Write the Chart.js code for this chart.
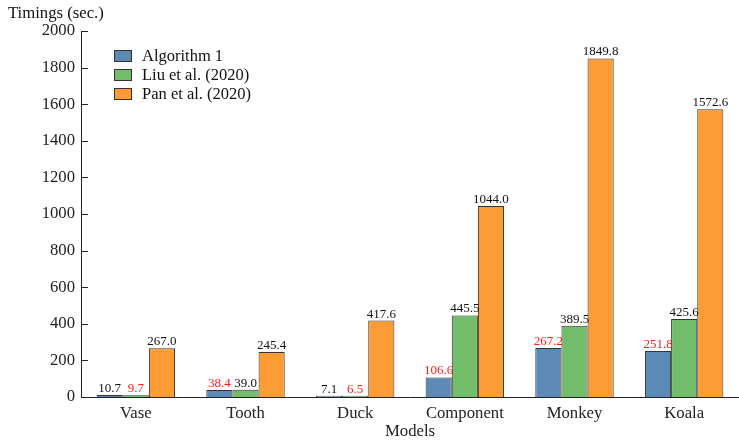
<!DOCTYPE html>
<html>
<head>
<meta charset="utf-8">
<script src="https://cdn.jsdelivr.net/npm/chart.js@4/dist/chart.umd.min.js"></script>
<style>
  html, body { margin: 0; padding: 0; background: #fff; }
  #wrap { width: 739px; height: 440px; position: relative; }
</style>
</head>
<body>
<div id="wrap"><canvas id="c" width="739" height="440"></canvas></div>
<script>
// Models and timings (seconds)
const models = ['Vase', 'Tooth', 'Duck', 'Component', 'Monkey', 'Koala'];
const algorithm1 = [10.7, 38.4, 7.1, 106.6, 267.2, 251.8];
const liu2020 = [9.7, 39.0, 6.5, 445.5, 389.5, 425.6];
const pan2020 = [267.0, 245.4, 417.6, 1044.0, 1849.8, 1572.6];
const seriesNames = ['Algorithm 1', 'Liu et al. (2020)', 'Pan et al. (2020)'];
const yTicks = [0, 200, 400, 600, 800, 1000, 1200, 1400, 1600, 1800, 2000];

const colors = ['#5a8ab5', '#72bd6a', '#fd9b35'];
const SERIF = '"Liberation Serif", "DejaVu Serif", serif';
const AXIS_FONT = 16.7;
const series = [algorithm1, liu2020, pan2020];

// Value labels above each bar; the fastest model in each group is shown in red
const valueLabels = {
  id: 'valueLabels',
  afterDatasetsDraw(chart) {
    const ctx = chart.ctx;
    ctx.save();
    ctx.font = '13px ' + SERIF;
    ctx.textAlign = 'center';
    ctx.textBaseline = 'alphabetic';
    chart.data.datasets.forEach((ds, di) => {
      const meta = chart.getDatasetMeta(di);
      meta.data.forEach((bar, i) => {
        const v = ds.data[i];
        const groupMin = Math.min(...series.map(s => s[i]));
        ctx.fillStyle = v === groupMin ? '#ff1a1a' : '#111';
        ctx.fillText(v.toFixed(1), bar.x, bar.y - 3);
      });
    });
    ctx.restore();
  }
};

// Axis title above the y axis, inward tick marks, and the legend box
const decorations = {
  id: 'decorations',
  afterDraw(chart) {
    const ctx = chart.ctx;
    const ys = chart.scales.y;
    const area = chart.chartArea;
    ctx.save();
    // inward ticks on the y axis
    ctx.strokeStyle = '#222';
    ctx.lineWidth = 1;
    yTicks.forEach(t => {
      const py = Math.round(ys.getPixelForValue(t)) + 0.5;
      ctx.beginPath();
      ctx.moveTo(area.left, py);
      ctx.lineTo(area.left + 7, py);
      ctx.stroke();
    });
    // y axis title
    ctx.fillStyle = '#111';
    ctx.font = AXIS_FONT + 'px ' + SERIF;
    ctx.textAlign = 'left';
    ctx.textBaseline = 'middle';
    ctx.fillText('Timings (sec.)', 8, 14);
    // legend
    seriesNames.forEach((name, i) => {
      const cy = 56 + i * 19;
      ctx.fillStyle = colors[i];
      ctx.fillRect(114, cy - 6, 18, 12);
      ctx.strokeStyle = '#333';
      ctx.strokeRect(114.5, cy - 5.5, 17, 11);
      ctx.fillStyle = '#111';
      ctx.font = '16.5px ' + SERIF;
      ctx.fillText(name, 142, cy + 1);
    });
    ctx.restore();
  }
};

new Chart(document.getElementById('c'), {
  type: 'bar',
  data: {
    labels: models,
    datasets: series.map((s, i) => ({
      label: seriesNames[i],
      data: s,
      backgroundColor: colors[i],
      borderColor: '#333',
      borderWidth: 1,
      categoryPercentage: 0.715,
      barPercentage: 1.0
    }))
  },
  options: {
    responsive: false,
    animation: false,
    layout: { padding: { top: 31, right: 0, left: 0, bottom: 0 } },
    plugins: {
      legend: { display: false },
      tooltip: { enabled: false }
    },
    scales: {
      x: {
        grid: { display: false, drawTicks: false },
        border: { display: true, color: '#222', width: 1 },
        ticks: { color: '#222', font: { family: SERIF, size: AXIS_FONT }, padding: 7 },
        title: { display: true, text: 'Models', color: '#222', font: { family: SERIF, size: AXIS_FONT, lineHeight: 1.0 }, padding: { top: 0, bottom: 0 } },
        afterFit(scale) { scale.height = 43; }
      },
      y: {
        min: 0,
        max: 2000,
        afterBuildTicks(scale) { scale.ticks = yTicks.map(v => ({ value: v })); },
        grid: { display: false, drawTicks: false },
        border: { display: true, color: '#222', width: 1 },
        ticks: {
          color: '#222',
          font: { family: SERIF, size: AXIS_FONT },
          padding: 6,
          callback: v => String(v)
        },
        afterFit(scale) { scale.width = 81; }
      }
    }
  },
  plugins: [valueLabels, decorations]
});
</script>
</body>
</html>
